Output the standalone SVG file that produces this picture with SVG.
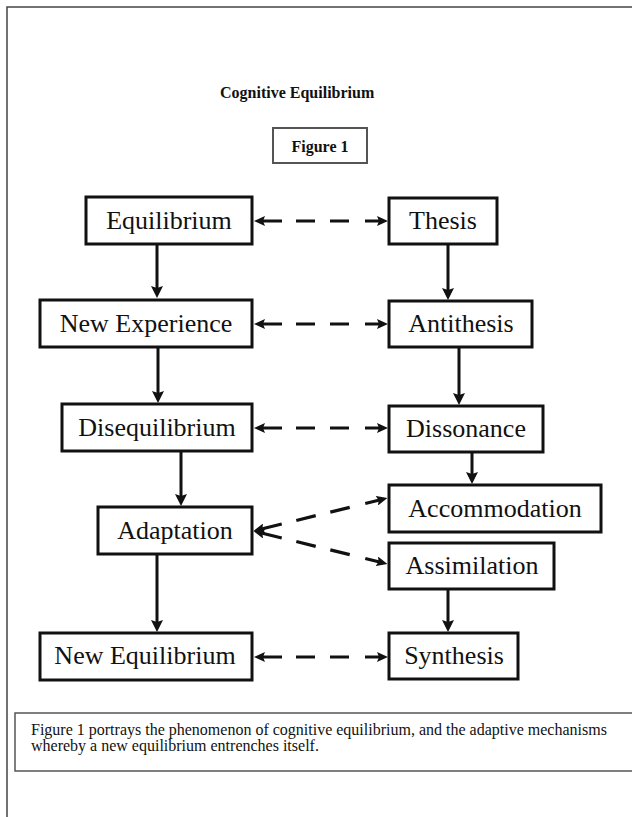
<svg xmlns="http://www.w3.org/2000/svg" width="632" height="817" viewBox="0 0 632 817">
<style>
.box{fill:#fff;stroke:#111;stroke-width:3}
.lbl{font-family:"Liberation Serif","Times New Roman",serif;font-size:26px;fill:#111;text-anchor:middle}
.sol{stroke:#111;stroke-width:3;fill:none;marker-end:url(#ah)}
.dsh{stroke:#111;stroke-width:3.2;fill:none;marker-start:url(#ahs);marker-end:url(#ahs)}
.dh{stroke-dasharray:22 14 19 15 19 16 17}
.dd{stroke-dasharray:23 15 20 15 20 16 17}
.ttl{font-family:"Liberation Serif","Times New Roman",serif;font-weight:bold;font-size:16px;fill:#111}
.cap{font-family:"Liberation Serif","Times New Roman",serif;font-size:16px;fill:#111}
</style>
<defs>
<marker id="ah" markerUnits="userSpaceOnUse" markerWidth="12" markerHeight="12" refX="6" refY="6" orient="auto-start-reverse"><path d="M0,0 L12,6 L0,12 L2,6 z" fill="#111"/></marker>
<marker id="ahs" markerUnits="userSpaceOnUse" markerWidth="11" markerHeight="10" refX="5" refY="5" orient="auto-start-reverse"><path d="M0,0 L11,5 L0,10 L2,5 z" fill="#111"/></marker>
</defs>
<rect width="632" height="817" fill="#fff"/>
<g id="page">
<path d="M7,817 V7 H632" fill="none" stroke="#444" stroke-width="1.5"/>
</g>
<g id="title">
<text class="ttl" x="220" y="98">Cognitive Equilibrium</text>
</g>
<g id="figure1">
<rect x="273" y="128" width="94" height="35" fill="#fff" stroke="#555" stroke-width="2"/>
<text class="ttl" x="320" y="152" text-anchor="middle">Figure 1</text>
</g>
<g id="connectors">
<line class="sol" x1="157" y1="245" x2="157" y2="292"/>
<line class="sol" x1="158" y1="348" x2="158" y2="397"/>
<line class="sol" x1="181" y1="452" x2="181" y2="500"/>
<line class="sol" x1="157" y1="555" x2="157" y2="626"/>
<line class="sol" x1="448" y1="245" x2="448" y2="294"/>
<line class="sol" x1="459" y1="348" x2="459" y2="399"/>
<line class="sol" x1="472" y1="453" x2="472" y2="478"/>
<line class="sol" x1="448" y1="590" x2="448" y2="626"/>
<line class="dsh dh" x1="260" y1="221" x2="382" y2="221"/>
<line class="dsh dh" x1="260" y1="324" x2="382" y2="324"/>
<line class="dsh dh" x1="260" y1="428" x2="382" y2="428"/>
<line class="dsh dh" x1="260" y1="657" x2="382" y2="657"/>
<line class="dsh dd" x1="259.4" y1="529.5" x2="381.6" y2="499.5"/>
<line class="dsh dd" x1="259.4" y1="532.5" x2="381.6" y2="562.5"/>
</g>
<g id="n-equilibrium"><rect class="box" x="86" y="197" width="166" height="47"/><text class="lbl" x="169" y="229">Equilibrium</text></g>
<g id="n-thesis"><rect class="box" x="389" y="198" width="108" height="46"/><text class="lbl" x="443" y="229">Thesis</text></g>
<g id="n-newexperience"><rect class="box" x="40" y="300" width="212" height="47"/><text class="lbl" x="146" y="332">New Experience</text></g>
<g id="n-antithesis"><rect class="box" x="389" y="301" width="143" height="46"/><text class="lbl" x="461" y="332">Antithesis</text></g>
<g id="n-disequilibrium"><rect class="box" x="62" y="404" width="190" height="47"/><text class="lbl" x="157" y="436">Disequilibrium</text></g>
<g id="n-dissonance"><rect class="box" x="389" y="406" width="154" height="46"/><text class="lbl" x="466" y="437">Dissonance</text></g>
<g id="n-accommodation"><rect class="box" x="389" y="485" width="212" height="47"/><text class="lbl" x="495" y="517">Accommodation</text></g>
<g id="n-adaptation"><rect class="box" x="98" y="507" width="154" height="47"/><text class="lbl" x="175" y="539">Adaptation</text></g>
<g id="n-assimilation"><rect class="box" x="389" y="543" width="165" height="46"/><text class="lbl" x="472" y="574">Assimilation</text></g>
<g id="n-newequilibrium"><rect class="box" x="40" y="633" width="212" height="47"/><text class="lbl" x="145" y="664">New Equilibrium</text></g>
<g id="n-synthesis"><rect class="box" x="389" y="633" width="129" height="46"/><text class="lbl" x="454" y="664">Synthesis</text></g>
<g id="caption">
<rect x="15" y="713" width="630" height="58" fill="#fff" stroke="#555" stroke-width="1.5"/>
<text class="cap" x="31" y="735">Figure 1 portrays the phenomenon of cognitive equilibrium, and the adaptive mechanisms</text>
<text class="cap" x="31" y="751">whereby a new equilibrium entrenches itself.</text>
</g>
</svg>
